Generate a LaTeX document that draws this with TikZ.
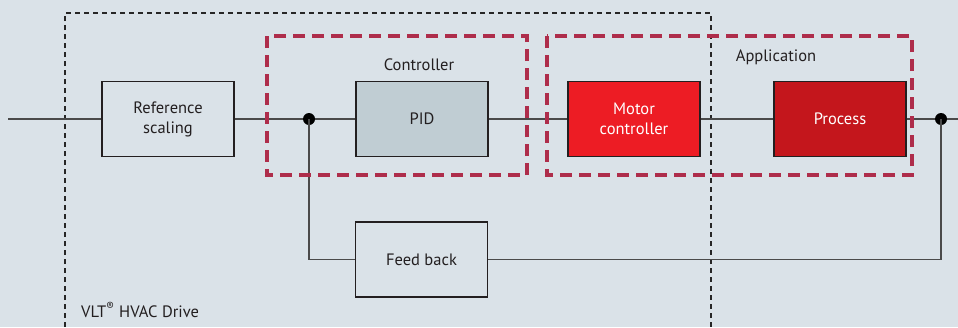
\documentclass[tikz,border=0pt]{standalone}
\usepackage{fontspec}
\setmainfont{PT Sans}
\definecolor{bg}{HTML}{DAE2E8}
\definecolor{ln}{HTML}{4A4A4A}
\definecolor{pidc}{HTML}{C0CDD3}
\definecolor{motc}{HTML}{ED1C24}
\definecolor{proc}{HTML}{C4161C}
\definecolor{dred}{HTML}{AE2D4B}
\definecolor{txt}{HTML}{231F20}
\tikzset{
  blk/.style={draw=txt, line width=1.2pt, minimum width=132pt, minimum height=75pt, align=center, inner sep=0pt, font=\fontsize{16.5}{20}\selectfont, text=txt},
  wire/.style={draw=ln, line width=1.2pt},
  dotn/.style={circle, fill=black, minimum size=12pt, inner sep=0pt},
  bdash/.style={draw=black!85, line width=1.3pt, dash pattern=on 5pt off 4pt},
  rdash/.style={draw=dred, line width=4pt, dash pattern=on 12pt off 7pt},
  lbl/.style={font=\fontsize{16.5}{20}\selectfont, text=txt, inner sep=0pt}
}
\begin{document}
\begin{tikzpicture}[x=1pt,y=-1pt]
\fill[bg] (0,0) rectangle (958,327);
\useasboundingbox (0,0) rectangle (958,327);
% dashed frames
\draw[bdash] (65,327) -- (65,13) -- (711,13) -- (711,327);
% blocks
\node[blk] (ref) at (168,119) {Reference\\scaling};
\node[blk, fill=pidc] (pid) at (422,119) {PID};
\node[blk, fill=motc, text=white] (mot) at (634,119) {Motor\\controller};
\node[blk, fill=proc, text=white] (prc) at (840,119) {Process};
\node[blk] (fb) at (421.5,259.5) {Feed back};
\node[dotn] (j1) at (309,119) {};
\node[dotn] (j2) at (941,119) {};
\coordinate (in) at (8,119);
\coordinate (out) at (958,119);
% wires
\draw[wire] (in) -- (ref.west);
\draw[wire] (ref.east) -- (j1);
\draw[wire] (j1) -- (pid.west);
\draw[wire] (pid.east) -- (mot.west);
\draw[wire] (mot.east) -- (prc.west);
\draw[wire] (prc.east) -- (j2) -- (out);
\draw[wire] (j1.center) |- (fb.west);
\draw[wire] (fb.east) -| (j2.center);
% red dashed frames
\draw[rdash] (267,36) rectangle (527,175);
\draw[rdash] (547,36) rectangle (912,175);
% labels
\node[lbl] (lc) at (419,65) {Controller};
\node[lbl] (la) at (776,57) {Application};
\node[lbl, anchor=west] (lv) at (81,310) {VLT\textsuperscript{®} HVAC Drive};
\end{tikzpicture}
\end{document}
